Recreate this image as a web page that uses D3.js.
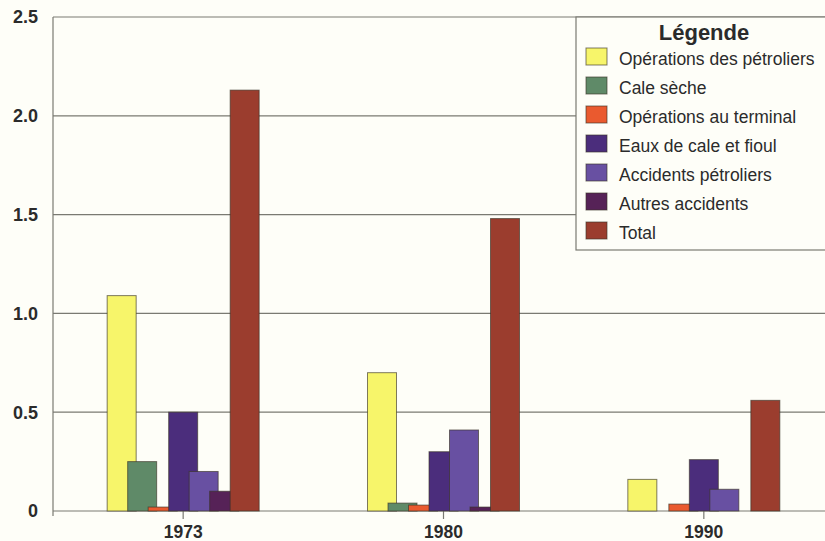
<!DOCTYPE html>
<html>
<head>
<meta charset="utf-8">
<script src="https://cdn.jsdelivr.net/npm/d3@7"></script>
<style>
  html, body { margin: 0; padding: 0; background: #fefef8; }
  svg { display: block; }
  text { font-family: "Liberation Sans", Arial, sans-serif; fill: #2b2b2b; }
</style>
</head>
<body>
<svg id="chart" width="825" height="541"></svg>
<script>
// Rejets d'hydrocarbures en mer par source (millions de tonnes)
const years = ["1973", "1980", "1990"];
const seriesNames = [
  "Opérations des pétroliers",
  "Cale sèche",
  "Opérations au terminal",
  "Eaux de cale et fioul",
  "Accidents pétroliers",
  "Autres accidents",
  "Total"
];
const operationsPetroliers = [1.09, 0.70, 0.16];
const caleSeche            = [0.25, 0.04, 0.00];
const operationsTerminal   = [0.02, 0.03, 0.035];
const eauxCaleFioul        = [0.50, 0.30, 0.26];
const accidentsPetroliers  = [0.20, 0.41, 0.11];
const autresAccidents      = [0.10, 0.02, 0.00];
const total                = [2.13, 1.48, 0.56];
const yTicks = [0, 0.5, 1.0, 1.5, 2.0, 2.5];
const yTickLabels = ["0", "0.5", "1.0", "1.5", "2.0", "2.5"];

const seriesValues = [operationsPetroliers, caleSeche, operationsTerminal,
  eauxCaleFioul, accidentsPetroliers, autresAccidents, total];
const colors = ["#f7f56a", "#5f8a68", "#ea5a2f", "#4b2d7c", "#6850a2", "#562257", "#9b3d2e"];

const svg = d3.select("#chart");
const W = 825;

const y = d3.scaleLinear().domain([0, 2.5]).range([511, 17]);
const x = d3.scaleBand().domain(years).range([53, 834]).padding(0);
const inner = d3.scalePoint().domain(d3.range(seriesNames.length)).range([-61.5, 61.5]);
const barW = 29;

// horizontal grid lines, including the top border
svg.append("g").selectAll("line")
  .data(yTicks)
  .join("line")
  .attr("x1", 53).attr("x2", W)
  .attr("y1", d => y(d)).attr("y2", d => y(d))
  .attr("stroke", "#7a7a72").attr("stroke-width", 1.2);

// y axis line
svg.append("line")
  .attr("x1", 53).attr("x2", 53)
  .attr("y1", y(2.5)).attr("y2", y(0) + 5)
  .attr("stroke", "#7a7a72").attr("stroke-width", 1.2);

// y labels
svg.append("g").selectAll("text")
  .data(yTicks)
  .join("text")
  .attr("x", 38)
  .attr("y", d => y(d))
  .attr("dy", "0.36em")
  .attr("text-anchor", "end")
  .attr("font-size", 18)
  .attr("font-weight", "bold")
  .text((d, i) => yTickLabels[i]);

// x ticks and labels
const xg = svg.append("g");
xg.selectAll("line")
  .data(years)
  .join("line")
  .attr("x1", d => x(d) + x.bandwidth() / 2)
  .attr("x2", d => x(d) + x.bandwidth() / 2)
  .attr("y1", y(0)).attr("y2", y(0) + 8)
  .attr("stroke", "#7a7a72").attr("stroke-width", 1.2);
xg.selectAll("text")
  .data(years)
  .join("text")
  .attr("x", d => x(d) + x.bandwidth() / 2)
  .attr("y", 538)
  .attr("text-anchor", "middle")
  .attr("font-size", 17.5)
  .attr("font-weight", "bold")
  .text(d => d);

// bars: later series sit on top of earlier ones
const bars = svg.append("g");
seriesValues.forEach((vals, s) => {
  bars.append("g").selectAll("rect")
    .data(years.map((yr, i) => ({ yr, v: vals[i] })).filter(d => d.v > 0))
    .join("rect")
    .attr("x", d => x(d.yr) + x.bandwidth() / 2 + inner(s) - barW / 2)
    .attr("y", d => y(d.v))
    .attr("width", barW)
    .attr("height", d => y(0) - y(d.v))
    .attr("fill", colors[s])
    .attr("stroke", "#3a3428")
    .attr("stroke-opacity", 0.65)
    .attr("stroke-width", 1);
});

// legend
const lg = svg.append("g");
lg.append("rect")
  .attr("x", 576).attr("y", y(2.5))
  .attr("width", 270).attr("height", 250 - y(2.5))
  .attr("fill", "#fefef8")
  .attr("stroke", "#7a7a72").attr("stroke-width", 1.2);
lg.append("text")
  .attr("x", 704).attr("y", 40)
  .attr("text-anchor", "middle")
  .attr("font-size", 22)
  .attr("font-weight", "bold")
  .text("Légende");
const items = lg.selectAll("g.item")
  .data(seriesNames)
  .join("g")
  .attr("class", "item")
  .attr("transform", (d, i) => `translate(0, ${65 + 29 * i})`);
items.append("rect")
  .attr("x", 586).attr("y", -17)
  .attr("width", 21).attr("height", 17)
  .attr("fill", (d, i) => colors[i])
  .attr("stroke", "#3a3428").attr("stroke-opacity", 0.65);
items.append("text")
  .attr("x", 619).attr("y", 0)
  .attr("font-size", 17.5)
  .text(d => d);
</script>
</body>
</html>
